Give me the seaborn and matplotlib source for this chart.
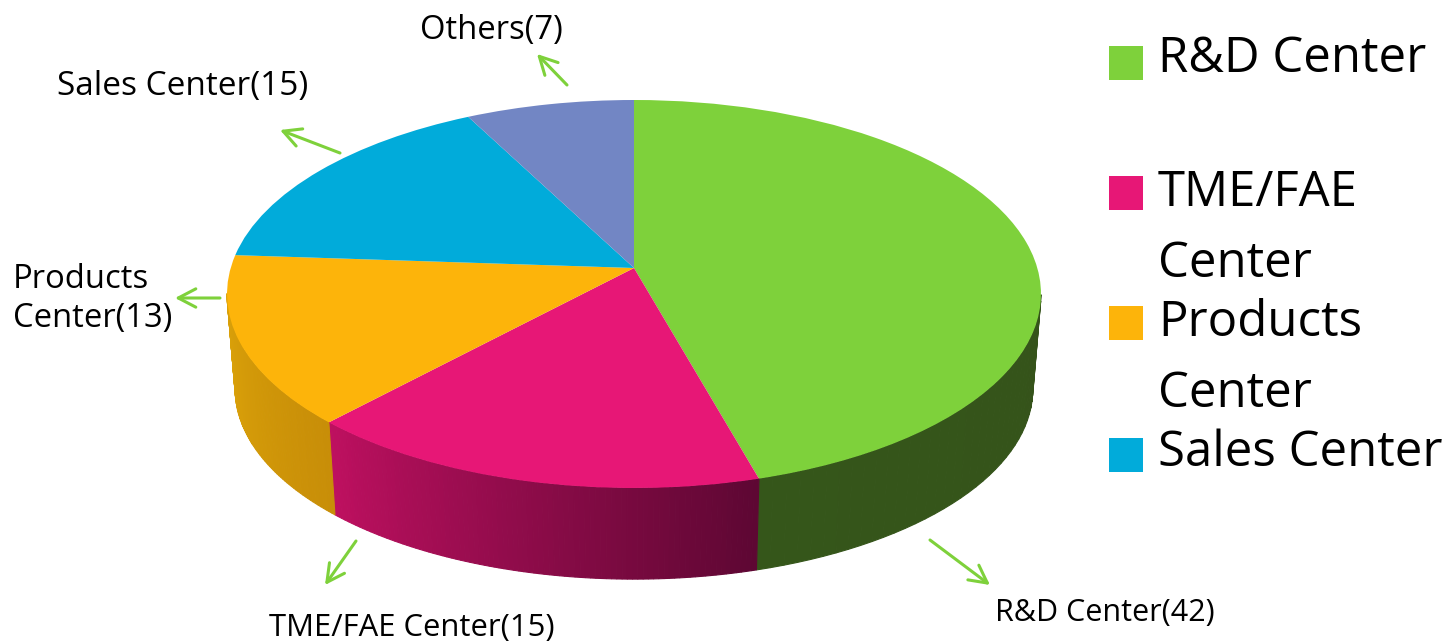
import numpy as np
import matplotlib
matplotlib.use("Agg")
import matplotlib.pyplot as plt
from matplotlib.transforms import Transform
from matplotlib.colors import to_rgb
import seaborn as sns

# === Datos ===
centers = ["R&D Center", "TME/FAE Center", "Products Center", "Sales Center", "Others"]
counts = [42, 15, 13, 15, 7]
pie_colors = ["#7ED13B", "#E71776", "#FDB40A", "#01ABDA", "#7286C4"]
wall_left = ["#35561A", "#BE1060", "#DCA309", "#01ABDA", "#7286C4"]
wall_right = ["#35531A", "#5E0733", "#C88E08", "#01ABDA", "#7286C4"]
slice_labels = ["R&D Center(42)", "TME/FAE Center(15)", "Products\nCenter(13)", "Sales Center(15)", "Others(7)"]
legend_labels = ["R&D Center", "TME/FAE\nCenter", "Products\nCenter", "Sales Center"]

sns.set_theme(style="white")
plt.rcParams["font.family"] = ["Open Sans", "DejaVu Sans"]

# Perspectiva: disco unitario -> elipse en píxeles
K = 0.134


class Perspective(Transform):
    input_dims = 2
    output_dims = 2

    def transform_non_affine(self, values):
        u, v = values[:, 0], values[:, 1]
        w = 1 + K * v
        return np.column_stack([634 + 403.3 * u / w, (268 - 154.6 * v) / w])


def to_bottom(xy):
    # contorno inferior del cilindro
    return np.column_stack([634 + 0.98 * (xy[:, 0] - 634), 294 + 0.98 * (xy[:, 1] - 294) + 95])


fig, ax = plt.subplots(figsize=(14.51, 6.42), dpi=100)
fig.subplots_adjust(0, 0, 1, 1)

wedges, _ = ax.pie(counts, colors=sns.color_palette(pie_colors), startangle=90, counterclock=False)
ax.set_aspect("auto")
ax.set_xlim(0, 1451)
ax.set_ylim(642, 0)
ax.axis("off")
proj = Perspective()

# === Pared lateral con degradado ===
for w, c1, c2 in zip(wedges, wall_left, wall_right):
    w.set_transform(proj + ax.transData)
    w.set_zorder(3)
    w.set_linewidth(0)

    th = np.radians(np.linspace(w.theta1, w.theta2, 90))
    th = th[np.sin(th) <= -K + 0.005]
    if len(th) < 2:
        continue
    top = proj.transform_non_affine(np.column_stack([np.cos(th), np.sin(th)]))
    bot = to_bottom(top)
    for i in range(len(th) - 1):
        # th crece en sentido antihorario: de izquierda a derecha por abajo
        t = i / (len(th) - 2)
        col = (1 - t) * np.array(to_rgb(c1)) + t * np.array(to_rgb(c2))
        quad = np.vstack([top[i:i + 2], bot[i:i + 2][::-1]])
        ax.fill(quad[:, 0], quad[:, 1], color=col, lw=0.8, zorder=2)

# === Flechas y etiquetas ===
arrow_color = "#7ED13B"
arrows = [((930, 540), (990, 585)), ((356, 541), (325, 585)), ((220, 298), (175, 298)),
          ((340, 153), (280, 130)), ((567, 85), (537, 54))]
for start, end in arrows:
    ax.annotate("", xy=end, xytext=start, zorder=4,
                arrowprops=dict(arrowstyle="->,head_length=1.05,head_width=0.55", color=arrow_color,
                                lw=2.2, shrinkA=0, shrinkB=0))

label_pos = [(995, 613), (269, 628), (13, 299), (57, 86), (420, 30)]
label_size = [22, 22.3, 23.6, 24, 23.6]
for txt, pos, size in zip(slice_labels, label_pos, label_size):
    ax.text(pos[0], pos[1], txt, fontsize=size, color="black", va="center", ha="left", linespacing=1.25)

# === Leyenda ===
legend_y = [63, 193, 323, 455]
text_base = [72, 277, 407, 466]
for lab, col, y, by in zip(legend_labels, pie_colors, legend_y, text_base):
    ax.scatter(1125.5, y, marker="s", s=566, color=col, linewidths=0, zorder=3)
    ax.text(1158, by, lab, fontsize=35.4, color="black", va="baseline", ha="left", linespacing=1.58)

fig.savefig("out.png", dpi=100)
